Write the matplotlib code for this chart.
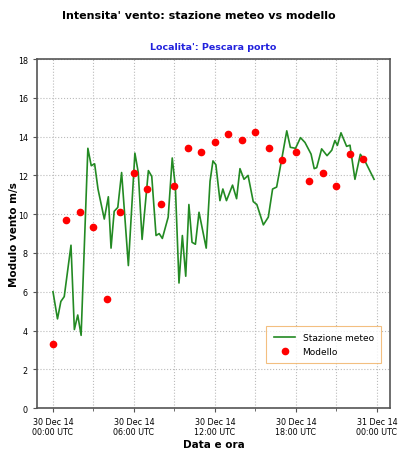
import matplotlib
matplotlib.use("Agg")
import matplotlib.pyplot as plt
import matplotlib.dates as mdates
import pandas as pd

# Osservazioni della stazione: minuti dalle 00:00 UTC del 30/12/2014 e modulo del vento (m/s)
staz_minuti = [0, 20, 35, 50, 80, 95, 110, 125, 155, 170, 185, 200, 228, 246, 258, 272,
               288, 305, 335, 364, 379, 396, 424, 439, 458, 472, 486, 512, 530, 544, 560,
               575, 590, 604, 618, 633, 649, 681, 698, 711, 724, 742, 755, 771, 798, 816,
               831, 849, 867, 890, 906, 935, 957, 976, 994, 1016, 1039, 1055, 1078, 1100,
               1120, 1147, 1161, 1172, 1194, 1218, 1239, 1253, 1264, 1280, 1305, 1320,
               1342, 1366, 1384, 1427]
staz_vento = [6.0, 4.6, 5.5, 5.75, 8.4, 4.05, 4.8, 3.75, 13.4, 12.5, 12.6, 11.3, 9.75, 10.9,
              8.25, 10.15, 10.35, 12.15, 7.35, 13.15, 12.15, 8.7, 12.25, 11.95, 8.9, 9.0,
              8.75, 9.85, 12.9, 11.4, 6.45, 8.9, 6.8, 10.5, 8.55, 8.45, 10.1, 8.25, 11.7,
              12.75, 12.55, 10.7, 11.3, 10.7, 11.5, 10.8, 12.35, 11.8, 12.0, 10.65, 10.5,
              9.45, 9.85, 11.3, 11.4, 12.8, 14.3, 13.45, 13.4, 13.95, 13.7, 13.1, 12.35,
              12.4, 13.37, 13.02, 13.3, 13.8, 13.55, 14.2, 13.5, 13.56, 11.8, 13.09, 12.8,
              11.8]

# Previsione del modello: valori orari (m/s)
mod_ore = list(range(24))
mod_vento = [3.3, 9.7, 10.1, 9.33, 5.6, 10.12, 12.1, 11.32, 10.52, 11.43, 13.44, 13.23,
             13.75, 14.14, 13.83, 14.24, 13.44, 12.82, 13.23, 11.72, 12.15, 11.43, 13.13,
             12.84]

y_ticks = [0, 2, 4, 6, 8, 10, 12, 14, 16, 18]

t0 = pd.Timestamp("2014-12-30 00:00")
t_staz = [t0 + pd.Timedelta(minutes=m) for m in staz_minuti]
t_mod = [t0 + pd.Timedelta(hours=h) for h in mod_ore]

fig = plt.figure(figsize=(3.98, 4.52), dpi=100)
ax = fig.add_axes([0.093, 0.095, 0.887, 0.772])

ax.plot(t_staz, staz_vento, color="#238a23", lw=1.2, label="Stazione meteo")
ax.plot(t_mod, mod_vento, "o", color="red", ms=4.5, label="Modello")

ax.set_ylim(0, 18)
ax.set_yticks(y_ticks)
ax.set_xlim(t0 - pd.Timedelta(minutes=71), t0 + pd.Timedelta(minutes=1498))

ax.xaxis.set_major_locator(mdates.HourLocator(byhour=[0, 6, 12, 18]))
ax.xaxis.set_minor_locator(mdates.HourLocator(byhour=[3, 9, 15, 21]))
ax.xaxis.set_major_formatter(mdates.DateFormatter("%d %b %y\n%H:%M UTC"))

ax.tick_params(axis="both", which="major", labelsize=5.8, length=3, color="#555555")
ax.tick_params(axis="x", which="minor", length=2, color="#555555")
ax.grid(True, which="both", axis="x", ls=":", color="#bbbbbb", lw=0.8)
ax.grid(True, which="major", axis="y", ls=":", color="#bbbbbb", lw=0.8)

for sp in ax.spines.values():
    sp.set_color("#555555")
    sp.set_linewidth(1.2)

ax.set_ylabel("Modulo vento m/s", fontsize=7.5, fontweight="bold", labelpad=-1)
ax.set_xlabel("Data e ora", fontsize=7.5, fontweight="bold", labelpad=2)
ax.set_title("Localita': Pescara porto", fontsize=6.8, fontweight="bold",
             color="#2222dd", pad=7)
fig.suptitle("Intensita' vento: stazione meteo vs modello", fontsize=8,
             fontweight="bold", y=0.975)

leg = ax.legend(loc="lower right", fontsize=6.5, frameon=True, fancybox=False,
                bbox_to_anchor=(0.987, 0.115), borderpad=0.8, labelspacing=0.6,
                handlelength=2.4)
leg.get_frame().set_edgecolor("#f0b060")
leg.get_frame().set_linewidth(0.8)

fig.savefig("out.png", dpi=100)
